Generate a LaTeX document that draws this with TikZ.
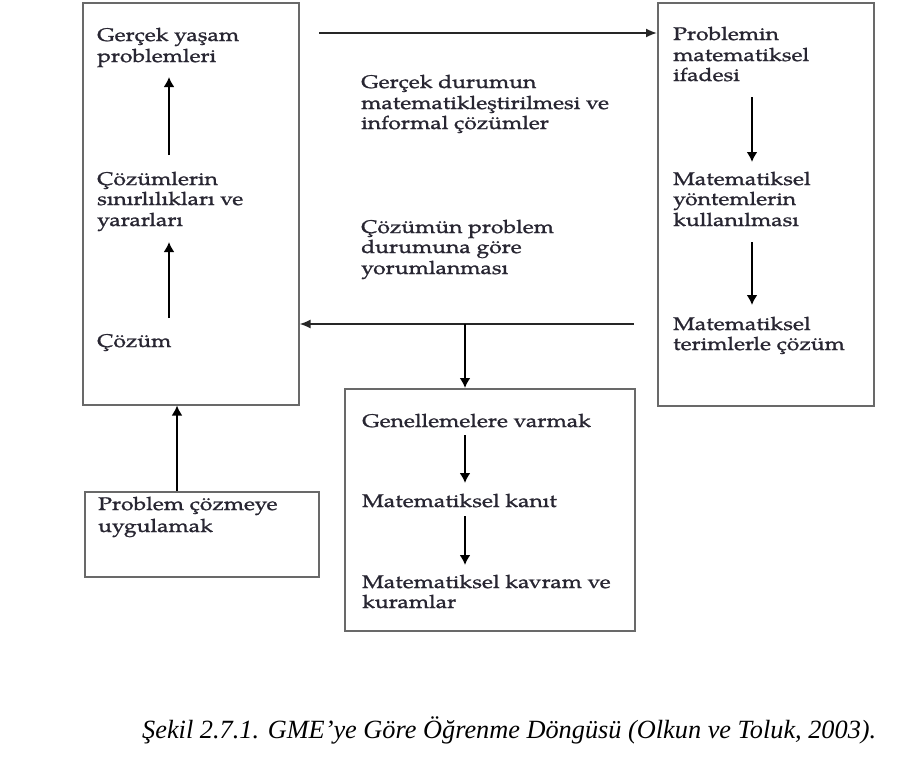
\documentclass[tikz,border=0pt]{standalone}
\usepackage{fontspec}
\newfontfamily\dfont[FakeStretch=1.25,FakeBold=1.2]{TeX Gyre Pagella}
\newfontfamily\cfont{Liberation Serif}
\usetikzlibrary{arrows.meta}
\definecolor{boxgray}{RGB}{105,105,105}
\definecolor{txt}{RGB}{40,38,50}
\begin{document}
\begin{tikzpicture}[x=1pt,y=-1pt,
  box/.style={draw=boxgray, line width=1.5pt, inner sep=0pt, anchor=north west},
  arr/.style={draw=black, line width=2.2pt, -{Latex[length=10pt,width=11pt]}},
  longarr/.style={draw=black!85, line width=1.8pt, -{Latex[length=11pt,width=9pt]}},
  lbl/.style={anchor=base west, inner sep=0pt, text=txt, font=\dfont\fontsize{18.3}{20.5}\selectfont},
  caption/.style={anchor=base west, inner sep=0pt, text=black, font=\cfont\itshape\fontsize{26.3}{30}\selectfont}]
\useasboundingbox (0,0) rectangle (915,769);
% boxes
\node[box, minimum width=216pt, minimum height=402pt] (LB) at (82,2) {};
\node[box, minimum width=216pt, minimum height=403pt] (RB) at (657,2) {};
\node[box, minimum width=290pt, minimum height=242pt] (MB) at (344,388) {};
\node[box, minimum width=234pt, minimum height=85pt] (BL) at (84,491) {};
% left box texts
\node[lbl] (l1a) at (97,41) {Gerçek yaşam};
\node[lbl] (l1b) at (97,62) {problemleri};
\node[lbl] (l2a) at (97,185) {Çözümlerin};
\node[lbl] (l2b) at (97,205) {sınırlılıkları ve};
\node[lbl] (l2c) at (97,226) {yararları};
\node[lbl] (l3a) at (97,347) {Çözüm};
% right box texts
\node[lbl] (r1a) at (673,40) {Problemin};
\node[lbl] (r1b) at (673,61) {matematiksel};
\node[lbl] (r1c) at (673,81) {ifadesi};
\node[lbl] (r2a) at (673,185) {Matematiksel};
\node[lbl] (r2b) at (673,205) {yöntemlerin};
\node[lbl] (r2c) at (673,226) {kullanılması};
\node[lbl] (r3a) at (673,330) {Matematiksel};
\node[lbl] (r3b) at (673,350) {terimlerle çözüm};
% middle free texts
\node[lbl] (m1a) at (361,88) {Gerçek durumun};
\node[lbl] (m1b) at (361,109) {matematikleştirilmesi ve};
\node[lbl] (m1c) at (361,129) {informal çözümler};
\node[lbl] (m2a) at (361,233) {Çözümün problem};
\node[lbl] (m2b) at (361,253) {durumuna göre};
\node[lbl] (m2c) at (361,274) {yorumlanması};
% middle box texts
\node[lbl] (b1) at (362,427) {Genellemelere varmak};
\node[lbl] (b2) at (362,507) {Matematiksel kanıt};
\node[lbl] (b3a) at (362,588) {Matematiksel kavram ve};
\node[lbl] (b3b) at (362,608) {kuramlar};
% bottom-left box texts
\node[lbl] (p1) at (98,510) {Problem çözmeye};
\node[lbl] (p2) at (98,532) {uygulamak};
% caption
\node[caption] (cap) at (142,738) {Şekil 2.7.1. GME’ye Göre Öğrenme Döngüsü (Olkun ve Toluk, 2003).};
% connector end points
\coordinate (topstart) at (319,33);
\coordinate (retstart) at (634,324);
\coordinate (branch) at (465,324);
\coordinate (blup) at (177,491);
\coordinate (la1s) at (169,155); \coordinate (la1e) at (169,77);
\coordinate (la2s) at (169,318); \coordinate (la2e) at (169,242);
\coordinate (ra1s) at (752,97);  \coordinate (ra1e) at (752,162);
\coordinate (ra2s) at (752,242); \coordinate (ra2e) at (752,305);
\coordinate (ma1s) at (465,435); \coordinate (ma1e) at (465,483);
\coordinate (ma2s) at (465,516); \coordinate (ma2e) at (465,565);
% connectors
\draw[longarr] (topstart) -- (topstart -| RB.west);
\draw[longarr] (retstart) -- (retstart -| LB.east);
\draw[arr] (branch) -- (branch |- MB.north);
\draw[arr] (blup) -- (blup |- LB.south);
\draw[arr] (la1s) -- (la1e);
\draw[arr] (la2s) -- (la2e);
\draw[arr] (ra1s) -- (ra1e);
\draw[arr] (ra2s) -- (ra2e);
\draw[arr] (ma1s) -- (ma1e);
\draw[arr] (ma2s) -- (ma2e);
\end{tikzpicture}
\end{document}
